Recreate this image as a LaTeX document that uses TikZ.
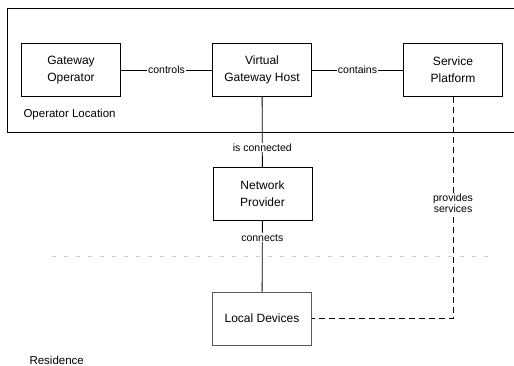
\documentclass[tikz,border=0pt]{standalone}
\usepackage{fontspec}
\setmainfont{Liberation Sans}
\begin{document}
\begin{tikzpicture}[x=1pt,y=-1pt,
  entity/.style={draw, line width=0.8pt, minimum width=99pt, minimum height=53pt,
    align=center, font=\fontsize{12}{17}\selectfont, inner sep=0pt},
  rel/.style={fill=white, inner sep=1pt, font=\fontsize{10.5}{11}\selectfont},
  link/.style={line width=0.8pt},
  svc/.style={line width=0.8pt, dash pattern=on 6pt off 4pt}]
\useasboundingbox (0,0) rectangle (514,366);

% operator location region, open to the right
\draw[line width=0.8pt] (514,8) -- (7,8) -- (7,132) -- (514,132);
\node[anchor=west, font=\fontsize{11.5}{13}\selectfont] (oploc) at (20,115) {Operator Location};

% residence boundary
\draw[gray!40, line width=0.6pt, dash pattern=on 4pt off 8pt] (52,256) -- (496,256);
\node[anchor=west, font=\fontsize{11.5}{13}\selectfont] (res) at (26,360) {Residence};

% entities
\node[entity] (gop) at (71,70) {Gateway\\Operator};
\node[entity] (vgh) at (262,70) {Virtual\\Gateway Host};
\node[entity] (sp)  at (453,70) {Service\\Platform};
\node[entity] (np)  at (262.5,194) {Network\\Provider};
\node[entity, draw=black!65] (ld) at (262,318.5) {Local Devices};

% relations
\draw[link] (gop) -- node[rel] {controls} (vgh);
\draw[link] (vgh) -- node[rel] {contains} (sp);
\draw[link] (vgh) -- node[rel, pos=0.72] {is connected} (np);
\draw[link] (np) -- node[rel, pos=0.24] {connects} (ld);
\coordinate (corner) at (sp.south |- ld.east);
\draw[svc] (sp.south) -- node[rel, pos=0.48, align=center, font=\fontsize{10.5}{9.5}\selectfont] {provides\\services} (corner) -- (ld.east);
\end{tikzpicture}
\end{document}
